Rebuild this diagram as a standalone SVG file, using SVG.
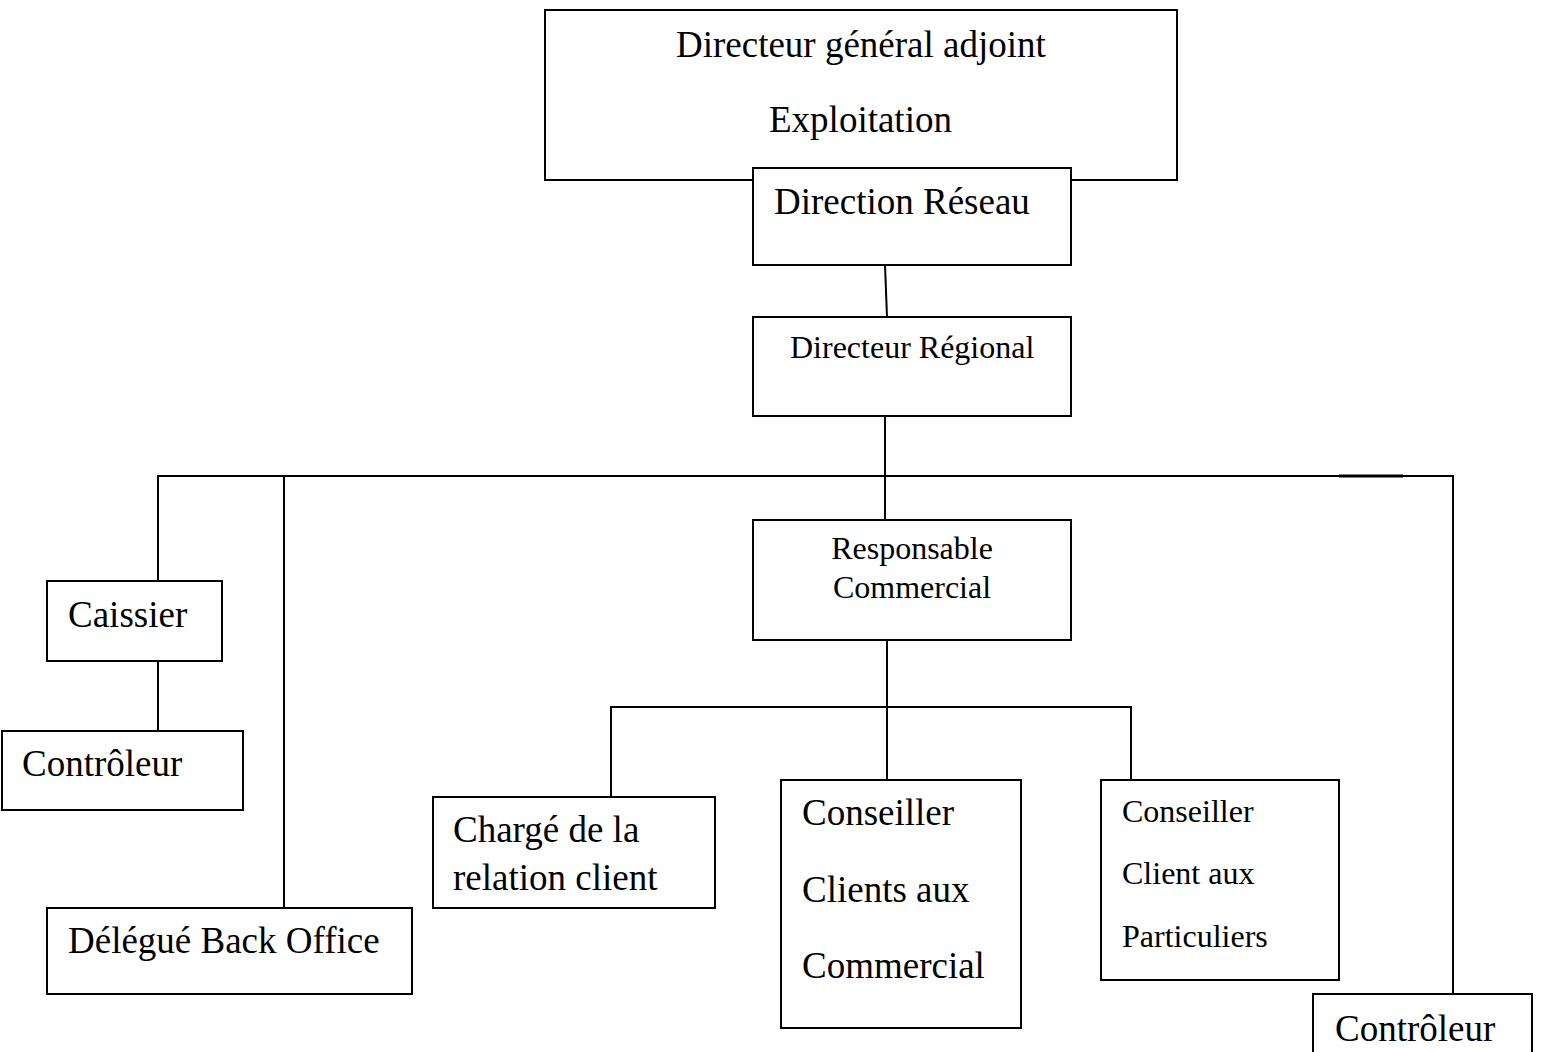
<svg xmlns="http://www.w3.org/2000/svg" width="1542" height="1052" viewBox="0 0 1542 1052">
<style>
.box{fill:#fff;stroke:#000;stroke-width:2}
.ln{fill:none;stroke:#000;stroke-width:2}
.t{font-family:"Liberation Serif","Times New Roman",serif;fill:#000}
.l{font-size:37px}
.s{font-size:32px}
</style>
<rect width="1542" height="1052" fill="#fff"/>
<g id="connectors">
<path class="ln" d="M885,265 L887,317"/>
<path class="ln" d="M885,416 L885,520"/>
<path class="ln" d="M158,581 L158,476 L1453,476 L1453,994"/>
<path class="ln" d="M1339,476 L1403,476" style="stroke-width:3"/>
<path class="ln" d="M158,661 L158,731"/>
<path class="ln" d="M284,476 L284,908"/>
<path class="ln" d="M887,640 L887,780"/>
<path class="ln" d="M611,797 L611,707 L1131,707 L1131,780"/>
</g>
<g id="n-dga">
<rect class="box" x="545" y="10" width="632" height="170"/>
<text class="t l" x="676" y="57">Directeur général adjoint</text>
<text class="t l" x="769" y="132">Exploitation</text>
</g>
<g id="n-direction-reseau">
<rect class="box" x="753" y="168" width="318" height="97"/>
<text class="t l" x="774" y="214">Direction Réseau</text>
</g>
<g id="n-directeur-regional">
<rect class="box" x="753" y="317" width="318" height="99"/>
<text class="t s" x="790" y="358">Directeur Régional</text>
</g>
<g id="n-responsable-commercial">
<rect class="box" x="753" y="520" width="318" height="120"/>
<text class="t s" x="912" y="559" text-anchor="middle">Responsable</text>
<text class="t s" x="912" y="598" text-anchor="middle">Commercial</text>
</g>
<g id="n-caissier">
<rect class="box" x="47" y="581" width="175" height="80"/>
<text class="t l" x="68" y="627">Caissier</text>
</g>
<g id="n-controleur-left">
<rect class="box" x="2" y="731" width="241" height="79"/>
<text class="t l" x="22" y="776">Contrôleur</text>
</g>
<g id="n-delegue">
<rect class="box" x="47" y="908" width="365" height="86"/>
<text class="t l" x="68" y="953">Délégué Back Office</text>
</g>
<g id="n-charge">
<rect class="box" x="433" y="797" width="282" height="111"/>
<text class="t l" x="453" y="842">Chargé de la</text>
<text class="t l" x="453" y="890">relation client</text>
</g>
<g id="n-conseiller-commercial">
<rect class="box" x="781" y="780" width="240" height="248"/>
<text class="t l" x="802" y="825">Conseiller</text>
<text class="t l" x="802" y="902">Clients aux</text>
<text class="t l" x="802" y="978">Commercial</text>
</g>
<g id="n-conseiller-particuliers">
<rect class="box" x="1101" y="780" width="238" height="200"/>
<text class="t s" x="1122" y="822">Conseiller</text>
<text class="t s" x="1122" y="884">Client aux</text>
<text class="t s" x="1122" y="947">Particuliers</text>
</g>
<g id="n-controleur-right">
<rect class="box" x="1313" y="994" width="219" height="70"/>
<text class="t l" x="1335" y="1041">Contrôleur</text>
</g>
</svg>
